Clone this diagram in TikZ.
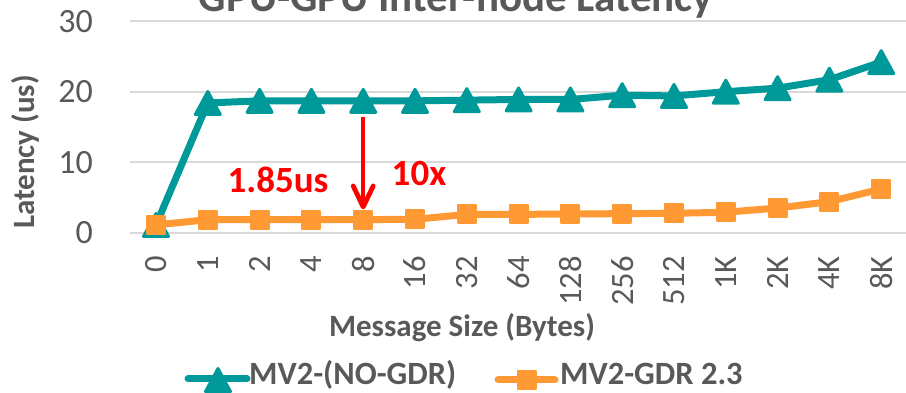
\documentclass[tikz,border=0pt]{standalone}
\usepackage{fontspec}
\setmainfont{Carlito}
\usepackage{tikz}
\usetikzlibrary{arrows.meta}
\definecolor{gdrteal}  {HTML}{009999}
\definecolor{gdrorange}{HTML}{FF9933}
\definecolor{axisgray} {HTML}{595959}
\definecolor{gridgray} {HTML}{D9D9D9}
\definecolor{callred}  {HTML}{FF0000}
\tikzset{
  titletext/.style ={font=\fontsize{43}{48}\selectfont\bfseries, text=axisgray, inner sep=0pt},
  axistitle/.style ={font=\fontsize{31}{36}\selectfont\bfseries, text=axisgray, inner sep=0pt},
  yticktext/.style ={font=\fontsize{34}{40}\selectfont, text=axisgray, inner sep=0pt},
  xticktext/.style ={font=\fontsize{32.5}{38}\selectfont, text=axisgray, inner sep=0pt},
  legendtext/.style={font=\fontsize{32.5}{38}\selectfont\bfseries, text=axisgray, inner sep=0pt},
  calltext/.style  ={font=\fontsize{37}{42}\selectfont\bfseries, text=callred, inner sep=0pt},
  gridline/.style  ={draw=gridgray, line width=2pt},
  nogdrline/.style ={draw=gdrteal, line width=7pt, line join=round},
  gdrline/.style   ={draw=gdrorange, line width=7pt, line join=round},
  callarrow/.style ={draw=callred, line width=4pt},
  callhead/.style  ={draw=callred, line width=4.8pt, line cap=round, line join=round},
  nogdrmark/.pic   ={\filldraw[draw=gdrteal, fill=gdrteal, line width=3pt, line join=round]
                       (0pt,11.5pt) -- (-12.5pt,-11.5pt) -- (12.5pt,-11.5pt) -- cycle;},
  gdrmark/.pic     ={\filldraw[draw=gdrorange, fill=gdrorange, line width=2pt, line join=round]
                       (-9pt,-9pt) rectangle (9pt,9pt);},
}

\begin{document}
\begin{tikzpicture}[x=1pt,y=1pt]
    \path[use as bounding box] (0,0) rectangle (906,393);
    \clip (0,0) rectangle (906,393);

    % Titles
    \node[titletext, anchor=base] (title) at (456,381) {GPU-GPU Inter-node Latency};
    \node[axistitle, rotate=90] (ytitle) at (25,241) {Latency (us)};
    \node[axistitle, anchor=base] (xtitle) at (462,56) {Message Size (Bytes)};

    \begin{scope}[shift={(156,160.3)}, x=51.8pt, y=7.05pt]
      % Grid and latency axis
      \foreach \v in {0,10,20,30} {
        \draw[gridline] (-0.5,\v) -- (14.5,\v);
        \node[yticktext, anchor=east] (ytick\v) at (-1.216,\v) {\v};
      }
      % Message size axis
      \foreach \lab [count=\i from 0] in {0,1,2,4,8,16,32,64,128,256,512,1K,2K,4K,8K}
        \node[xticktext, rotate=90, anchor=east] (xtick\i) at (\i,-3.3) {\lab};

      % MV2-(NO-GDR)
      \draw[nogdrline] plot coordinates {(0,1.1) (1,18.4) (2,18.7) (3,18.7) (4,18.7)
        (5,18.7) (6,18.8) (7,18.9) (8,18.9) (9,19.5) (10,19.4) (11,20.0) (12,20.5)
        (13,21.7) (14,24.2)};
      \foreach \i/\v in {0/1.1,1/18.4,2/18.7,3/18.7,4/18.7,5/18.7,6/18.8,7/18.9,8/18.9,
                         9/19.5,10/19.4,11/20.0,12/20.5,13/21.7,14/24.2}
        \pic at (\i,\v) {nogdrmark};

      % MV2-GDR 2.3
      \draw[gdrline] plot coordinates {(0,1.1) (1,1.85) (2,1.85) (3,1.85) (4,1.85)
        (5,1.9) (6,2.6) (7,2.6) (8,2.65) (9,2.7) (10,2.75) (11,2.9) (12,3.5)
        (13,4.4) (14,6.2)};
      \foreach \i/\v in {0/1.1,1/1.85,2/1.85,3/1.85,4/1.85,5/1.9,6/2.6,7/2.6,8/2.65,
                         9/2.7,10/2.75,11/2.9,12/3.5,13/4.4,14/6.2}
        \pic at (\i,\v) {gdrmark};

      % Callout
      \coordinate (calltop) at (4,16.4);
      \coordinate (calltip) at (4,3.65);
      \draw[callarrow] (calltop) -- (calltip);
      \draw[callhead] ([xshift=-10pt,yshift=21pt]calltip) -- (calltip)
        -- ([xshift=10pt,yshift=21pt]calltip);
    \end{scope}

    \node[calltext] (callus) at (278,213) {1.85us};
    \node[calltext] (callx) at (419,219) {10x};

    % Legend
    \coordinate (legA) at (188,14);
    \coordinate (legB) at (247,14);
    \draw[nogdrline, line cap=round] (legA) -- (legB);
    \pic at (218,13) {nogdrmark};
    \node[legendtext, anchor=base west] (legnogdr) at (249,8) {MV2-(NO-GDR)};
    \coordinate (legC) at (498,13);
    \coordinate (legD) at (555,13);
    \draw[gdrline, line cap=round] (legC) -- (legD);
    \pic at (527,13) {gdrmark};
    \node[legendtext, anchor=base west] (leggdr) at (560,8) {MV2-GDR 2.3};
\end{tikzpicture}
\end{document}
